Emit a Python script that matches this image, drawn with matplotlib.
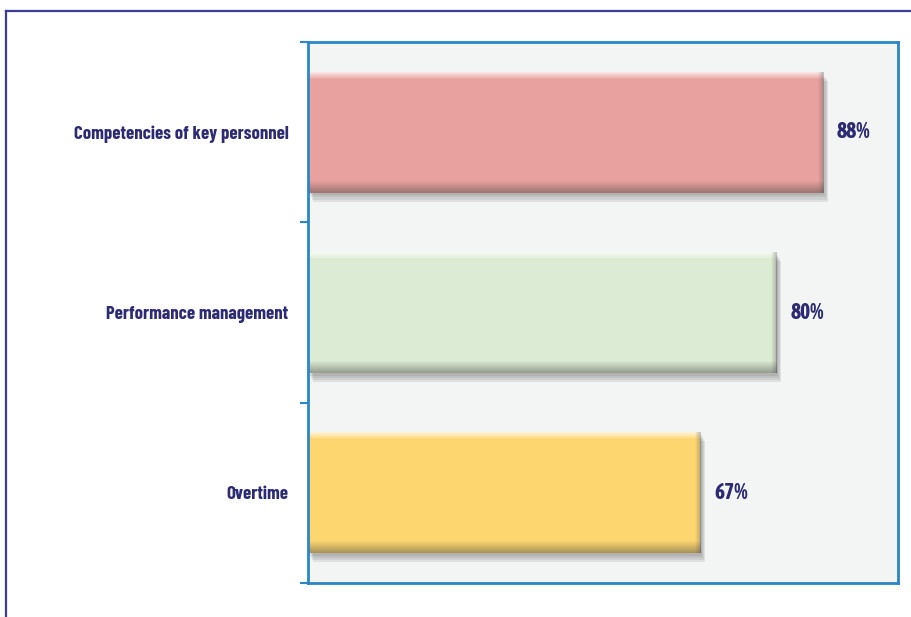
import matplotlib
matplotlib.use("Agg")
import matplotlib.pyplot as plt
import numpy as np
from matplotlib.lines import Line2D
import matplotlib.patheffects as pe

categories = ["Competencies of key personnel", "Performance management", "Overtime"]
values = [88, 80, 67]
bar_colors = ["#e8a19e", "#dcebd3", "#fdd66f"]

navy = "#2b2a72"
label_font = dict(family=["Barlow Condensed", "DejaVu Sans"], fontweight="bold")
value_font = dict(family=["Asap Condensed", "Barlow Condensed", "DejaVu Sans"], fontweight="bold")

fig = plt.figure(figsize=(9.12, 6.17), dpi=100)
fig.patch.set_facecolor("white")

# frame lines around the panel (top and left)
fig.add_artist(Line2D([6 / 912, 1.0], [1 - 10.5 / 617] * 2, color="#3c3c96", lw=1.6,
                      transform=fig.transFigure))
fig.add_artist(Line2D([6.5 / 912] * 2, [0, 1 - 10.5 / 617], color="#3c3c96", lw=1.6,
                      transform=fig.transFigure))

left, right, top, bottom = 308, 898, 42, 583
ax = fig.add_axes([left / 912, 1 - bottom / 617, (right - left) / 912, (bottom - top) / 617])
ax.set_facecolor("#f3f5f5")

y = list(range(len(categories)))
bar_h = 0.67
bars = ax.barh(y, values, height=bar_h, color=bar_colors, linewidth=0, zorder=3)
# soft drop shadow built from a few stacked translucent offsets
soft_shadow = [pe.SimplePatchShadow(offset=(dx, -dy), shadow_rgbFace="#555555", alpha=0.12)
               for dx, dy in [(1, 2), (2, 3.5), (3, 5), (3.5, 6.5)]]
for b in bars:
    b.set_path_effects(soft_shadow + [pe.Normal()])

# bevel shading: light band along the top edge, darker band along the bottom and right edges
n = 200
t = np.linspace(0, 1, n)  # 0 = top, 1 = bottom
alpha_top = np.clip(1 - t / 0.06, 0, 1) * 0.75
alpha_bot = np.clip((t - 0.9) / 0.1, 0, 1) * 0.45
shade = np.zeros((n, 1, 4))
shade[:, 0, :3] = np.where((alpha_top > 0)[:, None], 1.0, 0.25)
shade[:, 0, 3] = alpha_top + alpha_bot
s = np.linspace(0, 1, 50)
side = np.zeros((1, 50, 4))
side[0, :, :3] = 0.3
side[0, :, 3] = np.clip((s - 0.4) / 0.6, 0, 1) * 0.35
for b in bars:
    x0, y0 = b.get_x(), b.get_y()
    w, h = b.get_width(), b.get_height()
    im = ax.imshow(shade, extent=(x0, x0 + w, y0 + h, y0), aspect="auto", zorder=4,
                   interpolation="bilinear")
    im.set_clip_path(b)
    im2 = ax.imshow(side, extent=(x0 + w - 1.6, x0 + w, y0 + h, y0), aspect="auto", zorder=4,
                    interpolation="bilinear")
    im2.set_clip_path(b)

ax.set_xlim(0, 100.8)
ax.set_ylim(len(categories) - 0.5, -0.5)
ax.set_xticks([])
ax.set_yticks([i - 0.5 for i in range(len(categories) + 1)])
ax.set_yticklabels([])
ax.set_yticks(y, minor=True)
ax.set_yticklabels(categories, minor=True, fontsize=13.5, color=navy, **label_font)
ax.tick_params(axis="y", which="major", length=6, width=1.5, color="#2a86c8", direction="out")
ax.tick_params(axis="y", which="minor", length=0, pad=14)

for sp in ax.spines.values():
    sp.set_color("#2a86c8")
    sp.set_linewidth(2.0)
    sp.set_zorder(5)

for i, v in enumerate(values):
    ax.annotate(f"{v}%", (v, i), xytext=(14, 0), textcoords="offset pixels",
                va="center", ha="left", fontsize=15.5, color=navy, **value_font)

fig.savefig("out.png", dpi=100)
